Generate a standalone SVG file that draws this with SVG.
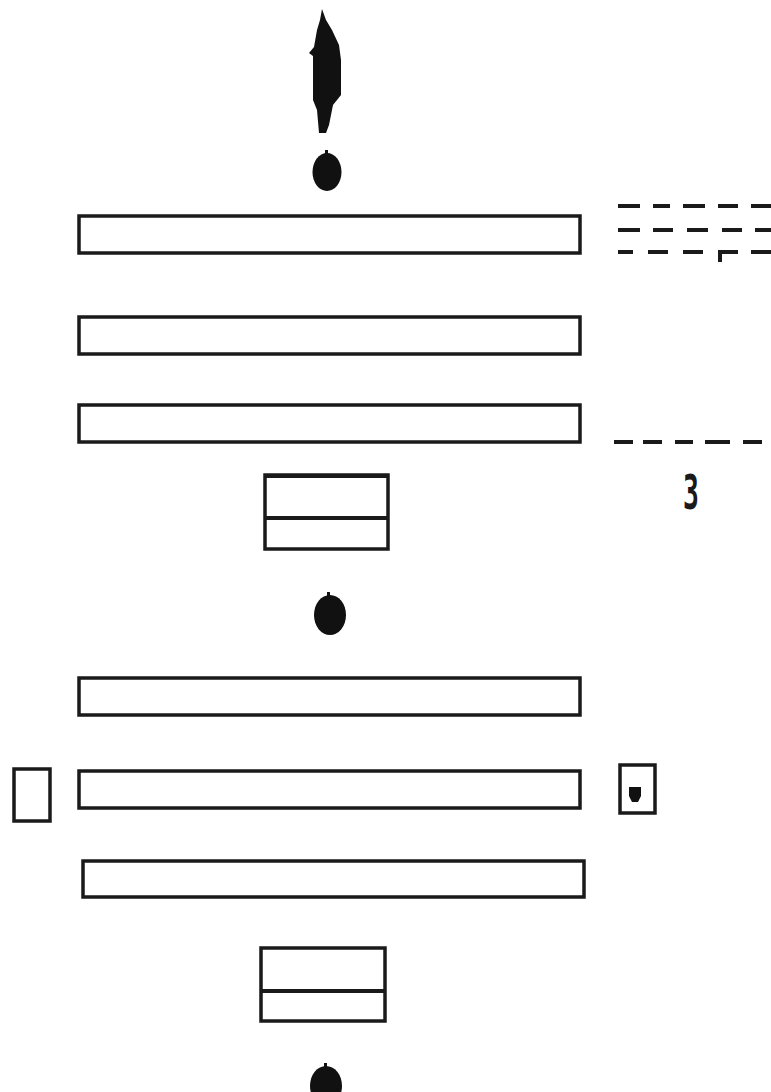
<svg xmlns="http://www.w3.org/2000/svg" width="771" height="1092" viewBox="0 0 771 1092">
  <style>
    .box { fill: #ffffff; stroke: #1a1a1a; stroke-width: 3.5; }
    .ink { fill: #111111; stroke: none; }
    .dash { stroke: #1a1a1a; stroke-width: 4; fill: none; }
    .glyph { font-family: "DejaVu Sans Mono", "Liberation Mono", monospace; font-weight: bold; fill: #1a1a1a; }
  </style>
  <rect width="771" height="1092" fill="#ffffff"/>

  <g id="mark-top">
    <path class="ink" d="M322,9 L326,20 L332,30 L339,45 L341,60 L341,95 L333,105 L329,125 L326,133 L319,133 L317,110 L313,100 L313,56 L309,53 L314,47 L317,30 L320,20 Z"/>
    <ellipse class="ink" cx="327" cy="172" rx="14.5" ry="19"/>
    <rect class="ink" x="325" y="150" width="3" height="6"/>
  </g>

  <g id="bar-1"><rect class="box" x="79" y="216" width="501" height="37"/></g>
  <g id="bar-2"><rect class="box" x="79" y="317" width="501" height="37"/></g>
  <g id="bar-3"><rect class="box" x="79" y="405" width="501" height="37"/></g>

  <g id="split-box-1">
    <rect class="box" x="265" y="475" width="123" height="74"/>
    <line class="dash" x1="265" y1="518" x2="388" y2="518" stroke-width="3.5"/>
    <line class="dash" x1="265" y1="476" x2="388" y2="476" stroke-width="4.5"/>
  </g>

  <g id="dot-2">
    <ellipse class="ink" cx="330" cy="615" rx="16" ry="20"/>
    <rect class="ink" x="327" y="592" width="3" height="6"/>
  </g>

  <g id="bar-4"><rect class="box" x="79" y="678" width="501" height="37"/></g>
  <g id="bar-5"><rect class="box" x="79" y="771" width="501" height="37"/></g>
  <g id="side-box-left"><rect class="box" x="14" y="769" width="36" height="52"/></g>
  <g id="side-box-right">
    <rect class="box" x="620" y="765" width="35" height="48"/>
    <path class="ink" d="M629,787 L641,787 L641,796 L638,802 L632,802 L629,796 Z"/>
  </g>
  <g id="bar-6"><rect class="box" x="83" y="861" width="501" height="36"/></g>

  <g id="split-box-2">
    <rect class="box" x="261" y="948" width="124" height="73"/>
    <line class="dash" x1="261" y1="991" x2="385" y2="991" stroke-width="3.5"/>
  </g>

  <g id="dot-3">
    <ellipse class="ink" cx="326" cy="1086" rx="16" ry="20"/>
    <rect class="ink" x="324" y="1063" width="3" height="6"/>
  </g>

  <g id="dashes-top">
    <line class="dash" x1="618" y1="206" x2="640" y2="206"/>
    <line class="dash" x1="653" y1="206" x2="670" y2="206"/>
    <line class="dash" x1="683" y1="206" x2="705" y2="206"/>
    <line class="dash" x1="718" y1="206" x2="738" y2="206"/>
    <line class="dash" x1="751" y1="206" x2="771" y2="206"/>
    <line class="dash" x1="618" y1="230" x2="640" y2="230"/>
    <line class="dash" x1="653" y1="230" x2="673" y2="230"/>
    <line class="dash" x1="687" y1="230" x2="708" y2="230"/>
    <line class="dash" x1="722" y1="230" x2="742" y2="230"/>
    <line class="dash" x1="755" y1="230" x2="771" y2="230"/>
    <line class="dash" x1="618" y1="252" x2="633" y2="252"/>
    <line class="dash" x1="648" y1="252" x2="668" y2="252"/>
    <line class="dash" x1="683" y1="252" x2="703" y2="252"/>
    <line class="dash" x1="718" y1="252" x2="738" y2="252"/>
    <line class="dash" x1="720" y1="252" x2="720" y2="262" stroke-width="3"/>
    <line class="dash" x1="751" y1="252" x2="771" y2="252"/>
  </g>

  <g id="dashes-mid">
    <line class="dash" x1="614" y1="442" x2="633" y2="442"/>
    <line class="dash" x1="643" y1="442" x2="662" y2="442"/>
    <line class="dash" x1="675" y1="442" x2="693" y2="442"/>
    <line class="dash" x1="705" y1="442" x2="730" y2="442"/>
    <line class="dash" x1="743" y1="442" x2="762" y2="442"/>
    <text class="glyph" x="691" y="509" font-size="48" text-anchor="middle" transform="translate(691 0) scale(0.55 1) translate(-691 0)">3</text>
  </g>

  <g id="connectors"></g>
</svg>
